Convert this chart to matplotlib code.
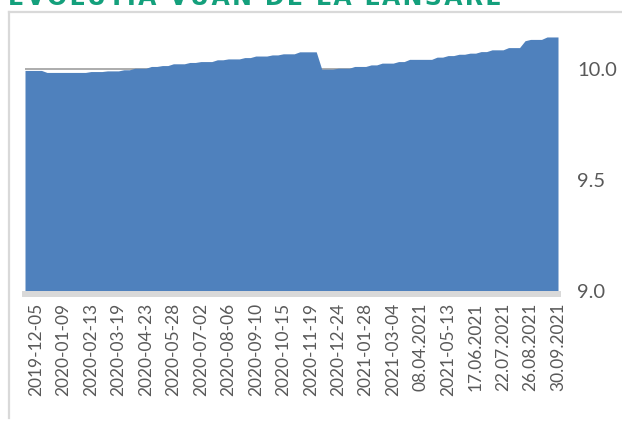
import numpy as np
import matplotlib
matplotlib.use("Agg")
import matplotlib.pyplot as plt
from matplotlib.lines import Line2D

# weekly VUAN values (first two points are before the first labelled week)
vuan = [
    9.995, 9.995, 9.995, 9.995,
    9.986, 9.986, 9.986, 9.986, 9.986, 9.986, 9.986, 9.986,
    9.990, 9.990, 9.990,
    9.993, 9.993, 9.993,
    9.998, 9.998,
    10.005, 10.005, 10.005,
    10.013, 10.013,
    10.017, 10.017,
    10.025, 10.025, 10.025,
    10.031, 10.031,
    10.035, 10.035, 10.035,
    10.043, 10.043,
    10.047, 10.047, 10.047,
    10.053, 10.053,
    10.060, 10.060, 10.060,
    10.065, 10.065,
    10.070, 10.070, 10.070,
    10.079, 10.079, 10.079, 10.079,
    10.001, 10.001, 10.001,
    10.005, 10.005, 10.005,
    10.013, 10.013, 10.013,
    10.020, 10.020,
    10.028, 10.028, 10.028,
    10.035, 10.035,
    10.045, 10.045, 10.045, 10.045, 10.045,
    10.055, 10.055,
    10.062, 10.062,
    10.068, 10.068,
    10.073, 10.073,
    10.080, 10.080,
    10.088, 10.088, 10.088,
    10.098, 10.098, 10.098,
    10.129,
    10.135, 10.135, 10.135,
    10.146, 10.146, 10.146,
]
n_before = 2  # weeks plotted before the first label
label_every = 5
launch_value = 10.0

tick_labels = [
    "2019-12-05", "2020-01-09", "2020-02-13", "2020-03-19", "2020-04-23",
    "2020-05-28", "2020-07-02", "2020-08-06", "2020-09-10", "2020-10-15",
    "2020-11-19", "2020-12-24", "2021-01-28", "2021-03-04", "08.04.2021",
    "2021-05-13", "17.06.2021", "22.07.2021", "26.08.2021", "30.09.2021",
]
y_ticks = [9.0, 9.5, 10.0]

title = "EVOLUTIA VUAN DE LA LANSARE"

blue = "#4f81bd"
grey_txt = "#595959"
border = "#d9d9d9"
green = "#14a07c"

W, H = 622, 421
fig = plt.figure(figsize=(W / 100, H / 100), dpi=100)
ax = fig.add_axes([25 / W, 1 - 291 / H, (558 - 25) / W, (291 - 25) / H])

# spines first: set_position resets the tick labels
for s in ["top", "left", "right"]:
    ax.spines[s].set_visible(False)
ax.spines["bottom"].set_color(border)
ax.spines["bottom"].set_linewidth(4.3)
ax.spines["bottom"].set_position(("outward", 2.2))
ax.patch.set_alpha(0)

x = np.arange(len(vuan)) - n_before
ax.axhline(launch_value, color="#a6a6a6", lw=1.3, zorder=1)
ax.fill_between(x, 9.0, vuan, color=blue, lw=0, zorder=2)

ax.set_xlim(x[0], x[-1])
ax.set_ylim(9.0, 10.2)

ticks = x[n_before::label_every]
ax.set_xticks(ticks)
ax.set_xticklabels(tick_labels, fontsize=12.5, color=grey_txt, family="Lato")
ax.tick_params(axis="x", length=0, pad=6, labelrotation=90)

ax.yaxis.tick_right()
ax.set_yticks(y_ticks)
ax.set_yticklabels([f"{v:.1f}" for v in y_ticks], fontsize=14.5,
                   color=grey_txt, family="Lato")
ax.tick_params(axis="y", length=0, pad=14)

# chart frame (partly cropped in the original)
fig.add_artist(Line2D([8.5 / W, 8.5 / W], [1 - 12 / H, 1 - 418 / H],
                      color=border, lw=1.6))
fig.add_artist(Line2D([8.5 / W, 1.0], [1 - 12 / H, 1 - 12 / H],
                      color=border, lw=1.6))

# title, cut off at the top of the image
fig.text(8 / W, 1 - 5 / H, "\u200a".join(title), color=green, fontsize=17,
         fontweight="bold", family="DejaVu Sans", va="baseline", ha="left")

fig.savefig("out.png", dpi=100)
